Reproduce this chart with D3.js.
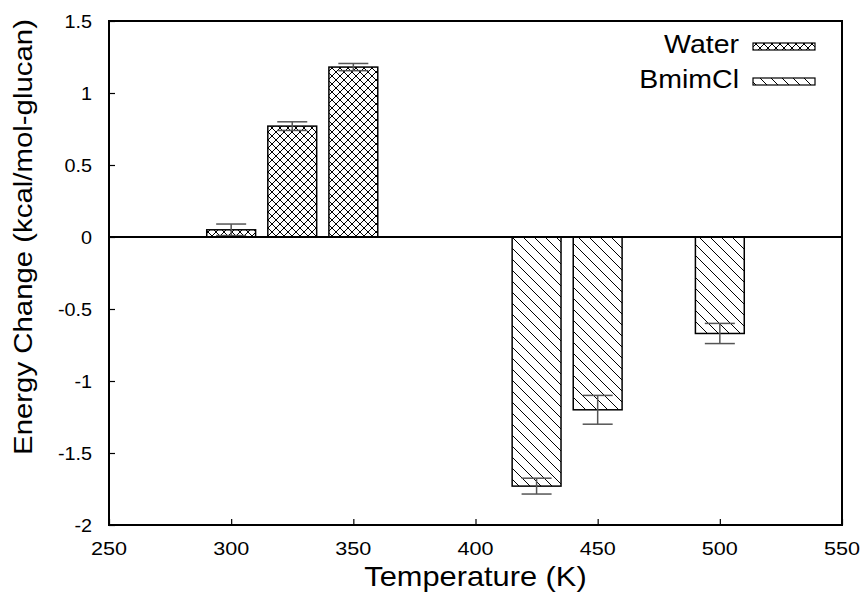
<!DOCTYPE html>
<html>
<head>
<meta charset="utf-8">
<script src="https://cdn.jsdelivr.net/npm/d3@7"></script>
<style>
  body { margin: 0; background: #fff; }
  svg { display: block; font-family: "Liberation Sans", Arial, sans-serif; }
</style>
</head>
<body>
<svg id="chart" width="867" height="596"></svg>
<script>
const waterTemps = [300, 325, 350];
const waterValues = [0.05, 0.77, 1.18];
const waterErrors = [0.04, 0.03, 0.025];

const bmimTemps = [425, 450, 500];
const bmimValues = [-1.73, -1.20, -0.67];
const bmimErrors = [0.055, 0.10, 0.07];

const xTicks = [250, 300, 350, 400, 450, 500, 550];
const yTicks = [-2, -1.5, -1, -0.5, 0, 0.5, 1, 1.5];

const w = 867;
const h = 596;
const margin = { left: 109, right: 25, top: 21, bottom: 71 };
const barWidth = 20;
const capHalf = 15;

const svg = d3.select('#chart');

const xScale = d3.scaleLinear()
  .domain([250, 550])
  .range([margin.left, w - margin.right]);

const yScale = d3.scaleLinear()
  .domain([-2, 1.5])
  .range([h - margin.bottom, margin.top]);

// wide text helper: the reference glyphs are wider than Liberation Sans
function label(x, y, txt, size, stretch, anchor, rotate) {
  return svg.append('text')
    .attr('transform', `translate(${x},${y})` + (rotate ? ` rotate(${rotate})` : '') + ` scale(${stretch},1)`)
    .attr('text-anchor', anchor)
    .attr('font-size', size)
    .attr('fill', '#000')
    .text(txt);
}

// hatch patterns
const defs = svg.append('defs');
const cross = defs.append('pattern')
  .attr('id', 'cross')
  .attr('patternUnits', 'userSpaceOnUse')
  .attr('width', 8)
  .attr('height', 8);
cross.append('rect').attr('width', 8).attr('height', 8).attr('fill', '#fff');
cross.append('path')
  .attr('d', 'M0,0L8,8M8,0L0,8M-1,1L1,-1M7,9L9,7M-1,7L1,9M7,-1L9,1')
  .attr('stroke', '#000')
  .attr('stroke-width', 1);

const diag = defs.append('pattern')
  .attr('id', 'diag')
  .attr('patternUnits', 'userSpaceOnUse')
  .attr('width', 11)
  .attr('height', 11);
diag.append('rect').attr('width', 11).attr('height', 11).attr('fill', '#fff');
diag.append('path')
  .attr('d', 'M0,0L11,11M-1,10L1,12M10,-1L12,1')
  .attr('stroke', '#000')
  .attr('stroke-width', 1);

const series = [
  { temps: waterTemps, values: waterValues, errors: waterErrors, fill: 'url(#cross)' },
  { temps: bmimTemps, values: bmimValues, errors: bmimErrors, fill: 'url(#diag)' }
];

// bars
series.forEach(s => {
  const rows = s.temps.map((t, i) => ({ t, v: s.values[i], e: s.errors[i] }));
  svg.append('g')
    .selectAll('rect')
    .data(rows)
    .enter()
    .append('rect')
    .attr('x', d => xScale(d.t - barWidth / 2))
    .attr('width', d => xScale(d.t + barWidth / 2) - xScale(d.t - barWidth / 2))
    .attr('y', d => yScale(Math.max(0, d.v)))
    .attr('height', d => Math.abs(yScale(d.v) - yScale(0)))
    .attr('fill', s.fill)
    .attr('stroke', '#000')
    .attr('stroke-width', 1.5);

  const err = svg.append('g')
    .attr('stroke', '#555')
    .attr('stroke-width', 1.5);
  rows.forEach(d => {
    const cx = xScale(d.t);
    err.append('line')
      .attr('x1', cx).attr('x2', cx)
      .attr('y1', yScale(d.v - d.e)).attr('y2', yScale(d.v + d.e));
    err.append('line')
      .attr('x1', cx - capHalf).attr('x2', cx + capHalf)
      .attr('y1', yScale(d.v - d.e)).attr('y2', yScale(d.v - d.e));
    err.append('line')
      .attr('x1', cx - capHalf).attr('x2', cx + capHalf)
      .attr('y1', yScale(d.v + d.e)).attr('y2', yScale(d.v + d.e));
  });
});

// zero line
svg.append('line')
  .attr('x1', xScale(250)).attr('x2', xScale(550))
  .attr('y1', yScale(0)).attr('y2', yScale(0))
  .attr('stroke', '#000')
  .attr('stroke-width', 2);

// axes (ticks inward, labels drawn separately)
const yAxis = d3.axisLeft(yScale)
  .tickValues(yTicks)
  .tickSizeInner(-6)
  .tickSizeOuter(0)
  .tickFormat('');
svg.append('g')
  .attr('transform', 'translate(' + margin.left + ',0)')
  .call(yAxis);

const xAxis = d3.axisBottom(xScale)
  .tickValues(xTicks)
  .tickSizeInner(-6)
  .tickSizeOuter(0)
  .tickFormat('');
svg.append('g')
  .attr('transform', 'translate(0,' + (h - margin.bottom) + ')')
  .call(xAxis);

svg.selectAll('.tick line').attr('stroke', '#000').attr('stroke-width', 1.2);
svg.selectAll('.domain').remove();

yTicks.forEach(v => label(92, yScale(v) + 6.5, String(v), 18, 1.1, 'end'));
xTicks.forEach(v => label(xScale(v), 555, String(v), 18, 1.2, 'middle'));

// frame
svg.append('rect')
  .attr('x', xScale(250))
  .attr('y', yScale(1.5))
  .attr('width', xScale(550) - xScale(250))
  .attr('height', yScale(-2) - yScale(1.5))
  .attr('fill', 'none')
  .attr('stroke', '#000')
  .attr('stroke-width', 2);

// axis titles
label((xScale(250) + xScale(550)) / 2, 586, 'Temperature (K)', 27, 1.14, 'middle');
label(32, yScale(0), 'Energy Change (kcal/mol-glucan)', 26, 1.13, 'middle', -90);

// legend
const legend = [
  { name: 'Water', fill: 'url(#cross)', y: 53 },
  { name: 'BmimCl', fill: 'url(#diag)', y: 88 }
];
legend.forEach(l => {
  label(739, l.y, l.name, 25, 1.14, 'end');
  svg.append('rect')
    .attr('x', 753)
    .attr('y', l.y - 10)
    .attr('width', 62)
    .attr('height', 7)
    .attr('fill', l.fill)
    .attr('stroke', '#000')
    .attr('stroke-width', 1.2);
});
</script>
</body>
</html>
